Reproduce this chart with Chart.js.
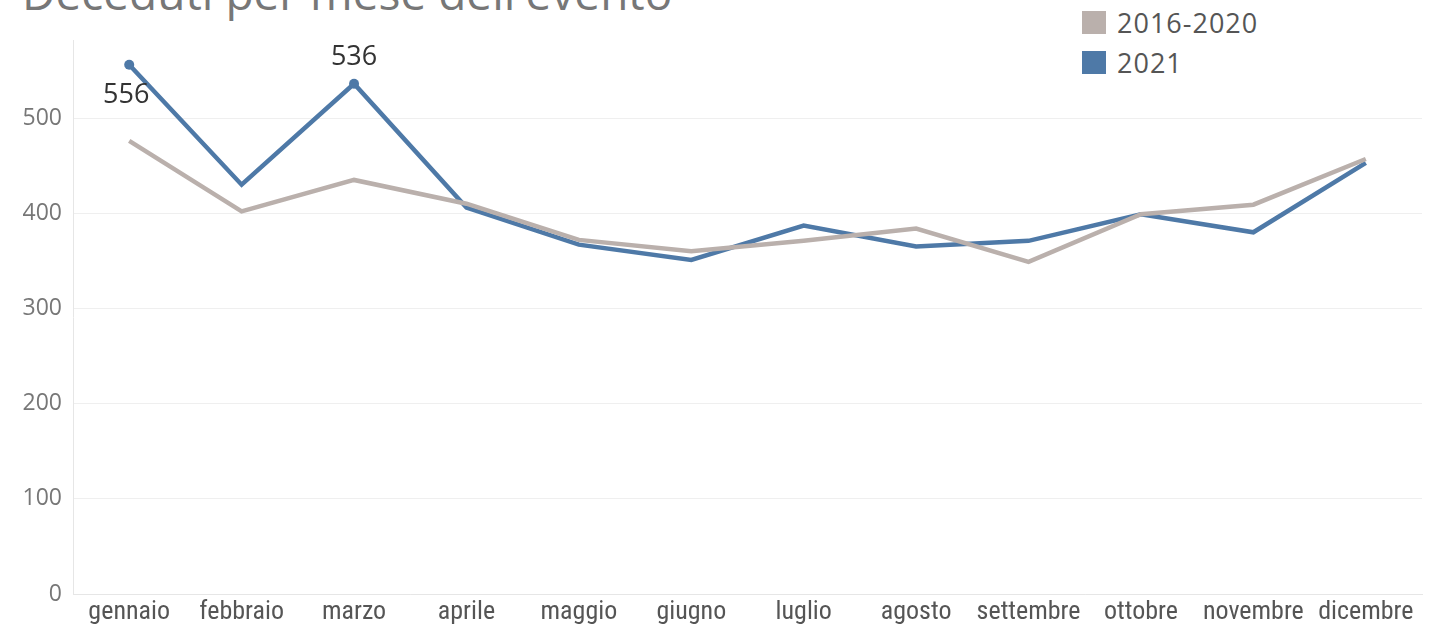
<!DOCTYPE html>
<html>
<head>
<meta charset="utf-8">
<script src="https://cdn.jsdelivr.net/npm/chart.js@4/dist/chart.umd.min.js"></script>
<style>
  html, body { margin:0; padding:0; background:#fff; overflow:hidden; }
  #wrap { position:relative; width:1436px; height:629px; }
  #title { position:absolute; left:22px; top:-31px; margin:0; font-family:"Open Sans", sans-serif; font-weight:400; font-size:46px; line-height:46px; color:#777; white-space:nowrap; }
  #legend { position:absolute; left:1082px; top:2px; font-family:"Open Sans", sans-serif; font-size:27px; letter-spacing:1px; color:#555; }
  #legend div { display:flex; align-items:center; height:40px; }
  #legend span.sw { display:inline-block; width:24px; height:23px; margin-right:11px; }
  canvas { position:absolute; left:0; top:0; }
</style>
</head>
<body>
<div id="wrap">
  <h1 id="title">Deceduti per mese dell'evento</h1>
  <div id="legend"></div>
  <canvas id="c" width="1436" height="629"></canvas>
</div>
<script>
const months = ["gennaio","febbraio","marzo","aprile","maggio","giugno","luglio","agosto","settembre","ottobre","novembre","dicembre"];
const avg2016_2020 = [476, 402, 435, 410, 372, 360, 371, 384, 349, 399, 409, 457];
const y2021 = [556, 430, 536, 406, 367, 351, 387, 365, 371, 399, 380, 453];
const seriesNames = ["2016-2020", "2021"];
const seriesColors = ["#bab0ac", "#4e79a7"];
const labeledIdx2021 = [0, 2];
const yTicks = [0, 100, 200, 300, 400, 500];

// HTML legend
const lg = document.getElementById('legend');
seriesNames.forEach((n, i) => {
  const d = document.createElement('div');
  d.innerHTML = '<span class="sw" style="background:' + seriesColors[i] + '"></span>' + n;
  lg.appendChild(d);
});

const pointLabels = {
  id: 'pointLabels',
  afterDatasetsDraw(chart) {
    const ctx = chart.ctx;
    const meta = chart.getDatasetMeta(1);
    ctx.save();
    ctx.font = '27px "Open Sans", sans-serif';
    ctx.fillStyle = '#333';
    ctx.textAlign = 'center';
    ctx.textBaseline = 'middle';
    labeledIdx2021.forEach(i => {
      const p = meta.data[i];
      const above = i !== 0;
      ctx.fillText(String(y2021[i]), p.x + (above ? 0 : -3), p.y + (above ? -26 : 31));
    });
    ctx.restore();
  }
};

new Chart(document.getElementById('c'), {
  type: 'line',
  data: {
    labels: months,
    datasets: [
      { label: seriesNames[0], data: avg2016_2020, borderColor: seriesColors[0], backgroundColor: seriesColors[0], borderWidth: 4.5, pointRadius: 0, tension: 0 },
      { label: seriesNames[1], data: y2021, borderColor: seriesColors[1], backgroundColor: seriesColors[1], borderWidth: 4.5,
        pointRadius: months.map((m, i) => labeledIdx2021.includes(i) ? 5 : 0), pointBorderWidth: 0, tension: 0 }
    ]
  },
  options: {
    responsive: false,
    animation: false,
    layout: { padding: { top: 40, right: 14, left: 0, bottom: 0 } },
    plugins: { legend: { display: false }, title: { display: false }, tooltip: { enabled: false } },
    scales: {
      x: {
        offset: true,
        grid: { display: false, drawTicks: false },
        border: { display: true, color: '#e6e6e6', width: 1 },
        ticks: { color: '#555', font: { family: '"Liberation Sans Narrow", "Roboto Condensed", "Liberation Sans", sans-serif', size: 26 }, padding: 3, maxRotation: 0, autoSkip: false },
        afterFit(s) { s.height = 35; }
      },
      y: {
        min: 0, max: 582,
        afterBuildTicks(s) { s.ticks = yTicks.map(v => ({ value: v })); },
        grid: { color: '#efefef', drawTicks: false, lineWidth: 1 },
        border: { display: true, color: '#e6e6e6', width: 1 },
        ticks: { color: '#777', font: { family: '"Open Sans", sans-serif', size: 23 }, padding: 11 },
        afterFit(s) { s.width = 73; }
      }
    }
  },
  plugins: [pointLabels]
});
</script>
</body>
</html>
